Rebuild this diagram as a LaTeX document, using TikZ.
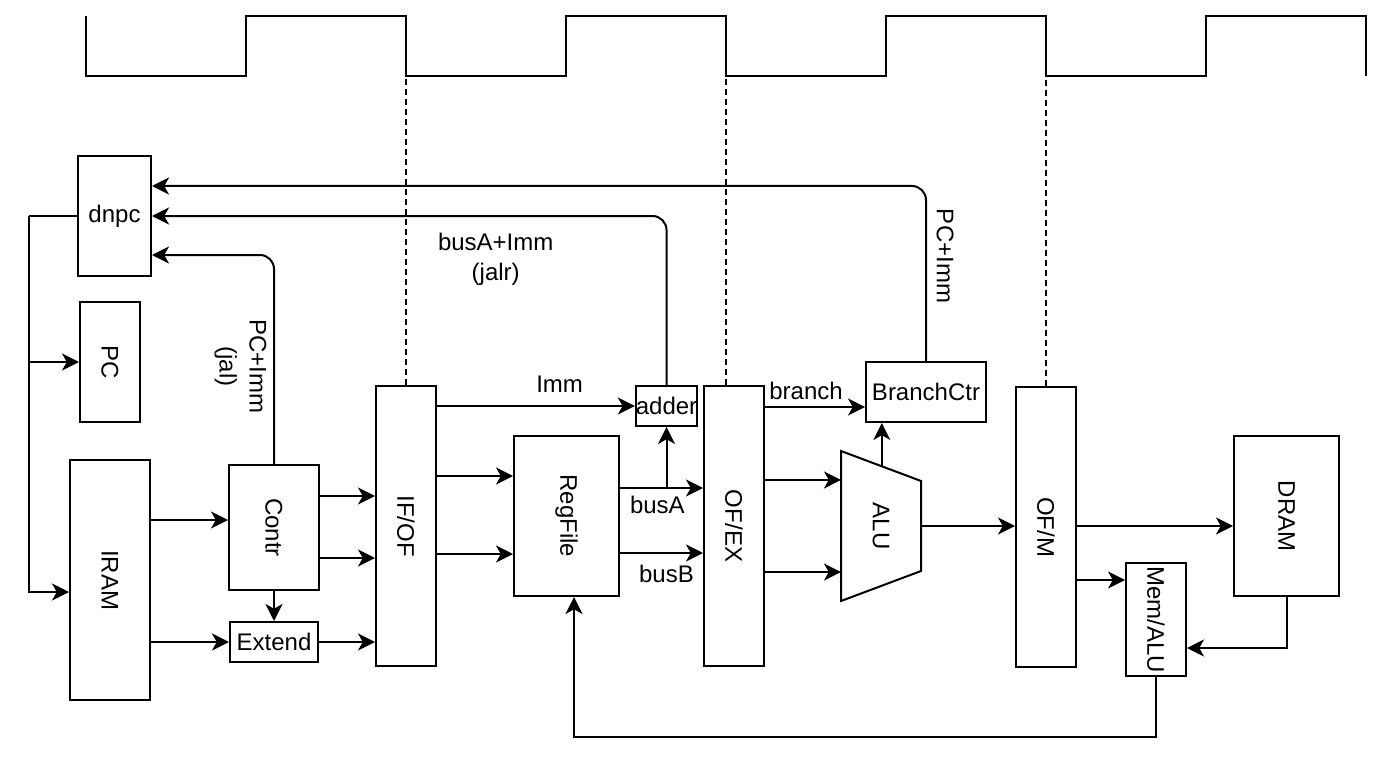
\documentclass[tikz,border=0pt]{standalone}
\usepackage{fontspec}
\setmainfont{Liberation Sans}
\usetikzlibrary{arrows.meta,positioning,calc}
\tikzstyle{block} = [draw, rectangle, inner sep=0pt]
\tikzstyle{reg} = [block, minimum width=30pt, minimum height=140pt]
\tikzstyle{clk} = [dash pattern=on 3pt off 2pt]
\newcommand{\vlabel}[1]{\rotatebox{-90}{#1}}

\begin{document}
\begin{tikzpicture}[x=0.5pt, y=-0.5pt, line width=1pt,
    >={Stealth[length=8.5pt,width=8.5pt,inset=2.4pt]},
    font=\fontsize{12}{15}\selectfont]
    \useasboundingbox (0,0) rectangle (1384,770);
    % the clock on top
    \draw (86,16) foreach \i in {0,...,3} {-- ({86+320*\i},76) -- ({246+320*\i},76)
        -- ({246+320*\i},16) -- ({406+320*\i},16)} -- (1366,76);
    % We start by placing the blocks
    \node [block, minimum width=36.5pt, minimum height=60pt] (dnpc) at (114.5,216) {dnpc};
    \node [block, minimum width=30pt, minimum height=60pt] (pc) at (110,362) {\vlabel{PC}};
    \node [block, minimum width=40pt, minimum height=120pt] (iram) at (110,580) {\vlabel{IRAM}};
    \node [block, minimum width=45pt, minimum height=62.5pt] (contr) at (274,527.5) {\vlabel{Contr}};
    \node [block, minimum width=44pt, minimum height=20pt, below=15pt of contr] (extend) {Extend};
    \node [reg] (ifof) at (406,526) {\vlabel{IF/OF}};
    \node [block, minimum width=52.5pt, minimum height=80pt] (regfile) at (566.5,516) {\vlabel{RegFile}};
    \node [block, minimum width=30.5pt, minimum height=20pt] (adder) at (666.5,406) {adder};
    \node [reg] (ofex) at (734,526) {\vlabel{OF/EX}};
    \node [block, minimum width=60pt, minimum height=30pt] (brc) at (926,392) {BranchCtr};
    \node [reg] (ofm) at (1046,527) {\vlabel{OF/M}};
    \node [block, minimum width=52.5pt, minimum height=80pt] (dram) at (1286.5,516) {\vlabel{DRAM}};
    \node [block, minimum width=30pt, minimum height=56.5pt] (memalu) at (1156,619.5) {\vlabel{Mem/ALU}};
    % the ALU is a trapezium, drawn by its corners
    \coordinate (alu-nw) at (841,451);
    \coordinate (alu-ne) at (921,481);
    \coordinate (alu-se) at (921,571);
    \coordinate (alu-sw) at (841,601);
    \draw (alu-nw) -- (alu-ne) -- (alu-se) -- (alu-sw) -- cycle;
    \node (alu) at (881,526) {\vlabel{ALU}};
    \coordinate (alu-in1) at ($(alu-nw)!0.193!(alu-sw)$);
    \coordinate (alu-in2) at ($(alu-nw)!0.807!(alu-sw)$);
    \coordinate (alu-out) at ($(alu-ne)!0.5!(alu-se)$);
    \coordinate (alu-top) at ($(alu-nw)!0.51!(alu-ne)$);
    % next pc
    \draw (dnpc.west) -- ++(-24pt,0) coordinate (lbus);
    \draw [->] (lbus) |- ([yshift=-6pt]iram.west);
    \draw [->] (lbus |- pc.west) -- (pc.west);
    \draw [->, rounded corners=7pt] (brc.north) |- ([yshift=15pt]dnpc.east)
        node [pos=0.3, anchor=south, rotate=-90, yshift=1.5pt] {PC+Imm};
    \draw [->, rounded corners=7pt] (adder.north) |- (dnpc.east)
        node [pos=0.666, below=4.5pt, align=center] {busA+Imm\\(jalr)};
    \draw [->, rounded corners=7pt] (contr.north) |- ([yshift=-19.5pt]dnpc.east)
        node [pos=0.233, anchor=north, rotate=-90, align=center] {PC+Imm\\(jal)};
    % fetch
    \draw [->] (iram.east |- 0,520) -- (contr.west |- 0,520);
    \draw [->] (iram.east |- extend.west) -- (extend.west);
    \draw [->] (contr.south) -- (extend.north);
    \draw [->] (contr.east |- 0,496) -- (ifof.west |- 0,496);
    \draw [->] (contr.east |- 0,558) -- (ifof.west |- 0,558);
    \draw [->] (extend.east) -- (ifof.west |- extend.east);
    % operand fetch
    \draw [->] (ifof.east |- adder.west) -- node [pos=0.62, above=3pt] {Imm} (adder.west);
    \draw [->] (ifof.east |- 0,476) -- (regfile.west |- 0,476);
    \draw [->] (ifof.east |- 0,554) -- (regfile.west |- 0,554);
    \draw [->] (regfile.east |- 0,488) -- node [pos=0.45, below] {busA} (ofex.west |- 0,488);
    \draw [->] (adder.south |- 0,488) -- (adder.south);
    \draw [->] (regfile.east |- 0,553) -- node [pos=0.56, below=2pt] {busB} (ofex.west |- 0,553);
    % execute
    \draw [->] (ofex.east |- 0,407) -- node [pos=0.41, above] {branch} (brc.west |- 0,407);
    \draw [->] (ofex.east |- alu-in1) -- (alu-in1);
    \draw [->] (ofex.east |- alu-in2) -- (alu-in2);
    \draw [->] (alu-top) -- (alu-top |- brc.south);
    \draw [->] (alu-out) -- (ofm.west |- alu-out);
    % memory and write back
    \draw [->] (ofm.east |- 0,526) -- (dram.west |- 0,526);
    \draw [->] (ofm.east |- 0,580) -- (memalu.west |- 0,580);
    \draw [->] (dram.south) |- (memalu.east |- 0,648);
    \draw [->] (memalu.south) -- ++(0,-30pt) -| ([xshift=3.75pt]regfile.south);
    % registers are clocked on the falling edge
    \draw [clk] (ifof.north) -- (ifof.north |- 0,76);
    \draw [clk] ([xshift=-4pt]ofex.north) -- ++(0,155pt);
    \draw [clk] (ofm.north) -- (ofm.north |- 0,80);
\end{tikzpicture}
\end{document}
